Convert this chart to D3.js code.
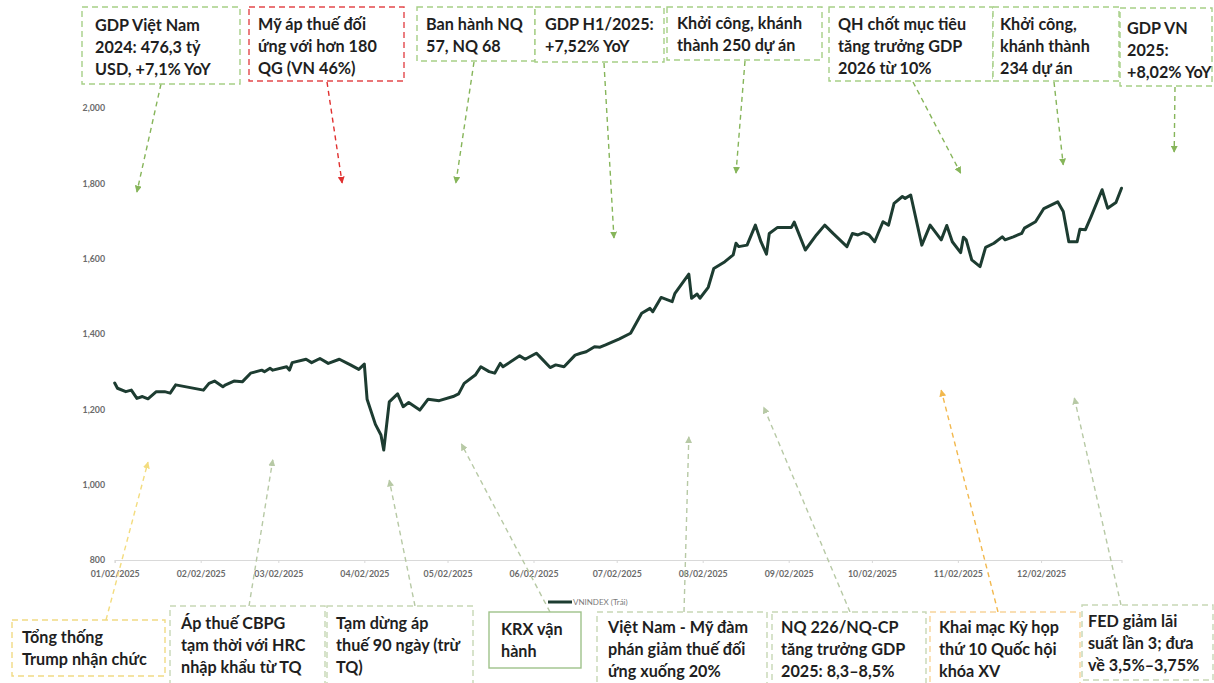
<!DOCTYPE html>
<html>
<head>
<meta charset="utf-8">
<script src="https://cdn.jsdelivr.net/npm/d3@7"></script>
<style>
  html, body { margin: 0; padding: 0; background: #ffffff; }
  svg { display: block; font-family: Lato, "Open Sans", "Noto Sans", sans-serif; }
</style>
</head>
<body>
<svg id="chart" width="1214" height="683"></svg>
<script>
// ---- VN-Index closing levels, 2025 ----
const dates = [
  "2025-01-02","2025-01-03","2025-01-06","2025-01-08","2025-01-10","2025-01-12","2025-01-14","2025-01-17","2025-01-20","2025-01-22","2025-01-24",
  "2025-02-03","2025-02-05","2025-02-07","2025-02-10","2025-02-11","2025-02-14","2025-02-17","2025-02-20","2025-02-24","2025-02-25","2025-02-27","2025-02-28",
  "2025-03-05","2025-03-06","2025-03-07","2025-03-12","2025-03-14","2025-03-17","2025-03-20","2025-03-24","2025-03-28","2025-03-31",
  "2025-04-02","2025-04-03","2025-04-06","2025-04-08","2025-04-09","2025-04-11","2025-04-14","2025-04-16","2025-04-18","2025-04-22","2025-04-25","2025-04-29",
  "2025-05-04","2025-05-06","2025-05-08","2025-05-12","2025-05-14","2025-05-17","2025-05-19","2025-05-21","2025-05-22","2025-05-28","2025-05-30",
  "2025-06-03","2025-06-04","2025-06-08","2025-06-10","2025-06-13","2025-06-17","2025-06-19","2025-06-21","2025-06-24","2025-06-26","2025-06-28",
  "2025-07-03","2025-07-07","2025-07-11","2025-07-14","2025-07-15","2025-07-18","2025-07-22","2025-07-23","2025-07-28","2025-07-29","2025-07-31",
  "2025-08-01","2025-08-04","2025-08-06","2025-08-10","2025-08-13","2025-08-14","2025-08-15","2025-08-18","2025-08-21","2025-08-23","2025-08-25","2025-08-26","2025-08-29",
  "2025-09-03","2025-09-04","2025-09-08","2025-09-12","2025-09-15","2025-09-18","2025-09-23","2025-09-25","2025-09-27","2025-09-29",
  "2025-10-01","2025-10-03","2025-10-06","2025-10-08","2025-10-10","2025-10-13","2025-10-14","2025-10-16","2025-10-20","2025-10-23","2025-10-27","2025-10-29","2025-10-31",
  "2025-11-03","2025-11-04","2025-11-05","2025-11-07","2025-11-10","2025-11-12","2025-11-15","2025-11-18","2025-11-19","2025-11-22","2025-11-25","2025-11-26","2025-11-30",
  "2025-12-03","2025-12-08","2025-12-10","2025-12-12","2025-12-15","2025-12-16","2025-12-18","2025-12-20","2025-12-24","2025-12-26","2025-12-29","2025-12-31"
];
const vnindex = [
  1270,1256,1247,1251,1229,1234,1228,1247,1247,1243,1265,
  1251,1269,1275,1260,1265,1275,1273,1296,1304,1300,1309,1304,
  1313,1304,1324,1333,1324,1335,1322,1333,1318,1306,
  1320,1227,1160,1132,1092,1220,1241,1207,1218,1198,1227,1223,
  1234,1241,1269,1291,1313,1300,1296,1322,1313,1342,1333,
  1349,1342,1311,1318,1313,1344,1349,1353,1366,1365,1371,
  1387,1402,1455,1468,1459,1497,1486,1508,1559,1495,1506,
  1495,1524,1574,1592,1610,1641,1632,1636,1689,1645,1612,1667,1683,
  1683,1697,1623,1663,1689,1667,1632,1667,1663,1669,
  1663,1645,1698,1689,1747,1765,1760,1769,1636,1689,1650,1688,1645,
  1616,1657,1650,1597,1579,1630,1641,1658,1650,1658,1667,1681,1698,
  1733,1751,1725,1645,1645,1678,1677,1711,1783,1734,1749,1787
];
const seriesName = "VNINDEX (Trái)";
const yTicks = [800, 1000, 1200, 1400, 1600, 1800, 2000];
const xTicks = ["2025-01-02","2025-02-02","2025-03-02","2025-04-02","2025-05-02","2025-06-02",
                "2025-07-02","2025-08-02","2025-09-02","2025-10-02","2025-11-02","2025-12-02"];

// ---- event notes above and below the chart ----
const topNotes = [
  ["GDP Việt Nam", "2024: 476,3 tỷ", "USD, +7,1% YoY"],
  ["Mỹ áp thuế đối", "ứng với hơn 180", "QG (VN 46%)"],
  ["Ban hành NQ", "57, NQ 68"],
  ["GDP H1/2025:", "+7,52% YoY"],
  ["Khởi công, khánh", "thành 250 dự án"],
  ["QH chốt mục tiêu", "tăng trưởng GDP", "2026 từ 10%"],
  ["Khởi công,", "khánh thành", "234 dự án"],
  ["GDP VN", "2025:", "+8,02% YoY"]
];
// where each note's arrow points, as [date, index level]
const topPointers = [
  ["2025-01-10", 1777], ["2025-03-25", 1801], ["2025-05-05", 1801], ["2025-07-01", 1655],
  ["2025-08-14", 1827], ["2025-11-03", 1827], ["2025-12-10", 1849], ["2026-01-19", 1883]
];
const bottomNotes = [
  ["Tổng thống", "Trump nhận chức"],
  ["Áp thuế CBPG", "tạm thời với HRC", "nhập khẩu từ TQ"],
  ["Tạm dừng áp", "thuế 90 ngày (trừ", "TQ)"],
  ["KRX vận", "hành"],
  ["Việt Nam - Mỹ đàm", "phán giảm thuế đối", "ứng xuống 20%"],
  ["NQ 226/NQ-CP", "tăng trưởng GDP", "2025: 8,3–8,5%"],
  ["Khai mạc Kỳ họp", "thứ 10 Quốc hội", "khóa XV"],
  ["FED giảm lãi", "suất lần 3; đưa", "về 3,5%–3,75%"]
];
const bottomPointers = [
  ["2025-01-14", 1060], ["2025-02-28", 1066], ["2025-04-11", 1012], ["2025-05-07", 1108],
  ["2025-07-28", 1127], ["2025-08-24", 1206], ["2025-10-27", 1251], ["2025-12-14", 1230]
];

// ---- layout ----
const W = 1214, H = 683;
const plot = { left: 114.7, right: 1121.5, top: 108, bottom: 560 };

const C = {
  line: "#1d3c31",
  axisText: "#6b6b6b",
  axisLine: "#d9d9d9",
  noteText: "#1f1f1f",
  green: "#a6cf87",
  greenArrow: "#86b55a",
  red: "#e3484b",
  redArrow: "#e0302f",
  yellow: "#f1da84",
  yellowArrow: "#f3dc7e",
  pale: "#c7d7b5",
  paleArrow: "#b7c9a5",
  orange: "#f8d49a",
  orangeArrow: "#f2b84d",
  krx: "#9fc28a"
};

// box geometry: x, y, w, h, text inset, first-line centre offset, tail point, colours
const topLayout = [
  { x: 82,   y: 7, w: 158, h: 77, px: 13, ty: 18, tail: [161, 84], stroke: C.green, arrow: C.greenArrow },
  { x: 249,  y: 7, w: 155, h: 74, px: 9,  ty: 17, tail: [327, 82], stroke: C.red,   arrow: C.redArrow },
  { x: 417,  y: 7, w: 118, h: 54, px: 9,  ty: 17, tail: [474, 62], stroke: C.green, arrow: C.greenArrow },
  { x: 535,  y: 7, w: 129, h: 55, px: 10, ty: 17, tail: [604, 63], stroke: C.green, arrow: C.greenArrow },
  { x: 667,  y: 7, w: 155, h: 53, px: 10, ty: 16, tail: [745, 61], stroke: C.green, arrow: C.greenArrow },
  { x: 829,  y: 7, w: 164, h: 74, px: 9,  ty: 17, tail: [913, 82], stroke: C.green, arrow: C.greenArrow },
  { x: 993,  y: 7, w: 126, h: 74, px: 7,  ty: 17, tail: [1054, 82], stroke: C.green, arrow: C.greenArrow },
  { x: 1120, y: 8, w: 92,  h: 78, px: 7,  ty: 20, tail: [1175, 87], stroke: C.green, arrow: C.greenArrow }
];
const bottomLayout = [
  { x: 12,   y: 620, w: 153, h: 56, px: 10, ty: 17, tail: [106, 620], stroke: C.yellow, arrow: C.yellowArrow, dash: true },
  { x: 170,  y: 606, w: 155, h: 80, px: 11, ty: 17, tail: [249, 606], stroke: C.pale,   arrow: C.paleArrow,   dash: true },
  { x: 327,  y: 606, w: 146, h: 80, px: 9,  ty: 17, tail: [415, 606], stroke: C.pale,   arrow: C.paleArrow,   dash: true },
  { x: 489,  y: 612, w: 92,  h: 56, px: 12, ty: 17, tail: [550, 612], stroke: C.krx,    arrow: C.paleArrow,   dash: false },
  { x: 597,  y: 612, w: 170, h: 75, px: 11, ty: 15, tail: [684, 612], stroke: C.pale,   arrow: C.paleArrow,   dash: true },
  { x: 772,  y: 612, w: 154, h: 75, px: 9,  ty: 15, tail: [850, 612], stroke: C.pale,   arrow: C.paleArrow,   dash: true },
  { x: 930,  y: 612, w: 150, h: 75, px: 9,  ty: 15, tail: [998, 612], stroke: C.orange, arrow: C.orangeArrow, dash: true },
  { x: 1082, y: 605, w: 131, h: 75, px: 6,  ty: 16, tail: [1121, 605], stroke: C.pale,  arrow: C.paleArrow,   dash: true }
];

const parse = d3.timeParse("%Y-%m-%d");
const series = dates.map((d, i) => ({ date: parse(d), value: vnindex[i] }));

const x = d3.scaleTime()
  .domain([parse("2025-01-02"), parse("2025-12-31")])
  .range([plot.left, plot.right]);
const y = d3.scaleLinear()
  .domain([800, 2000])
  .range([plot.bottom, plot.top]);

const svg = d3.select("#chart");
svg.append("rect").attr("width", W).attr("height", H).attr("fill", "#ffffff");

// arrowhead markers, one per colour
const defs = svg.append("defs");
const markerId = {};
[C.greenArrow, C.redArrow, C.yellowArrow, C.paleArrow, C.orangeArrow].forEach((col, i) => {
  const id = "head" + i;
  markerId[col] = id;
  defs.append("marker")
    .attr("id", id)
    .attr("viewBox", "0 0 10 10")
    .attr("refX", 9).attr("refY", 5)
    .attr("markerWidth", 7).attr("markerHeight", 7)
    .attr("markerUnits", "userSpaceOnUse")
    .attr("orient", "auto")
    .append("path")
    .attr("d", "M0,0 L10,5 L0,10 Z")
    .attr("fill", col);
});

// ---- axes ----
const yAxis = d3.axisLeft(y)
  .tickValues(yTicks)
  .tickFormat(d3.format(","))
  .tickSize(0)
  .tickPadding(0);
const gy = svg.append("g").attr("transform", "translate(105,0)").call(yAxis);
gy.select(".domain").remove();
gy.selectAll("text")
  .attr("fill", C.axisText)
  .style("font-size", "8.8px")
  .style("font-weight", "700")
  .style("font-family", "Lato, sans-serif");

const xAxis = d3.axisBottom(x)
  .tickValues(xTicks.map(parse))
  .tickFormat(d3.timeFormat("%m/%d/%Y"))
  .tickSize(3)
  .tickPadding(8);
const gx = svg.append("g").attr("transform", `translate(0,${plot.bottom})`).call(xAxis);
gx.select(".domain").attr("stroke", C.axisLine).attr("stroke-width", 1.2);
gx.selectAll(".tick line").attr("stroke", C.axisLine);
gx.selectAll("text")
  .attr("fill", C.axisText)
  .style("font-size", "8.8px")
  .style("font-weight", "700")
  .style("font-family", "Lato, sans-serif");

// ---- event arrows and boxes ----
function drawNotes(notes, pointers, layout) {
  const g = svg.append("g");
  notes.forEach((lines, i) => {
    const L = layout[i];
    const [pd, pv] = pointers[i];
    g.append("line")
      .attr("x1", L.tail[0]).attr("y1", L.tail[1])
      .attr("x2", x(parse(pd))).attr("y2", y(pv))
      .attr("stroke", L.arrow)
      .attr("stroke-width", 1.4)
      .attr("stroke-dasharray", "5,4")
      .attr("marker-end", `url(#${markerId[L.arrow]})`);
  });
  notes.forEach((lines, i) => {
    const L = layout[i];
    g.append("rect")
      .attr("x", L.x).attr("y", L.y).attr("width", L.w).attr("height", L.h)
      .attr("fill", "#ffffff")
      .attr("stroke", L.stroke)
      .attr("stroke-width", 1.4)
      .attr("stroke-dasharray", L.dash === false ? null : "6,4");
    const t = g.append("text")
      .attr("fill", C.noteText)
      .style("font-size", "16.2px")
      .style("font-weight", "700");
    lines.forEach((s, k) => {
      t.append("tspan")
        .attr("x", L.x + L.px)
        .attr("y", L.y + L.ty + k * 22)
        .attr("dy", "0.35em")
        .text(s);
    });
  });
}
drawNotes(topNotes, topPointers, topLayout);
drawNotes(bottomNotes, bottomPointers, bottomLayout);

// ---- index line ----
const line = d3.line()
  .x(d => x(d.date))
  .y(d => y(d.value))
  .curve(d3.curveLinear);
svg.append("path")
  .datum(series)
  .attr("fill", "none")
  .attr("stroke", C.line)
  .attr("stroke-width", 3)
  .attr("stroke-linejoin", "round")
  .attr("stroke-linecap", "round")
  .attr("d", line);

// ---- legend ----
const lg = svg.append("g").attr("transform", "translate(548,602)");
lg.append("line").attr("x1", 0).attr("x2", 24).attr("y1", 0).attr("y2", 0)
  .attr("stroke", C.line).attr("stroke-width", 3);
lg.append("text").attr("x", 25).attr("y", 0).attr("dy", "0.35em")
  .attr("fill", "#7a7a7a")
  .style("font-size", "8px")
  .text(seriesName);
</script>
</body>
</html>
